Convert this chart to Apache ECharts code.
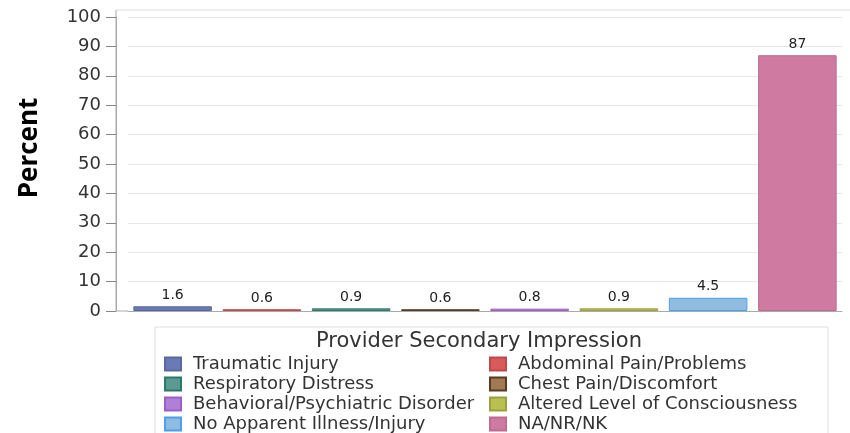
<!DOCTYPE html>
<html><head><meta charset="utf-8">
<script src="https://cdn.jsdelivr.net/npm/echarts@6/dist/echarts.min.js"></script>
<style>html,body{margin:0;padding:0;background:#fff}#c{width:850px;height:433px}</style>
</head><body><div id="c"></div>
<script>
const categories = ["Traumatic Injury","Abdominal Pain/Problems","Respiratory Distress","Chest Pain/Discomfort","Behavioral/Psychiatric Disorder","Altered Level of Consciousness","No Apparent Illness/Injury","NA/NR/NK"];
const values = [1.6, 0.6, 0.9, 0.6, 0.8, 0.9, 4.5, 87];
const labels = ["1.6","0.6","0.9","0.6","0.8","0.9","4.5","87"];
const fills = ["#6b7ab5","#d85a5a","#5a9a90","#a07a50","#b080d8","#b8c050","#90bce0","#cf7aa0"];
const borders = ["#5a68a0","#c04848","#2a7a6a","#5a3a20","#9a60c8","#9aa040","#4aa0f0","#c06a90"];
const yTicks = [0,10,20,30,40,50,60,70,80,90,100];
const legendTitle = "Provider Secondary Impression";
const yTitle = "Percent";

const FONT = '"DejaVu Sans", Verdana, sans-serif';
const series = categories.map((name, i) => ({
  name: name,
  type: 'bar',
  stack: 'all',
  barCategoryGap: '12%',
  data: categories.map((c, j) => j === i ? values[i] : '-'),
  itemStyle: {color: fills[i], borderColor: borders[i], borderWidth: 1},
  label: {show: true, position: 'top', distance: 4, formatter: () => labels[i],
          color: '#222', fontFamily: FONT, fontSize: 14},
  emphasis: {disabled: true}
}));

const legendText = {fontFamily: FONT, fontSize: 18, color: '#333', padding: [0, 0, 0, 7]};
const chart = echarts.init(document.getElementById('c'));
chart.setOption({
  animation: false,
  grid: {left: 128, right: 8, top: 17, bottom: 122, containLabel: false},
  xAxis: {type: 'category', data: categories,
    axisLine: {show: true, lineStyle: {color: '#aaa'}},
    axisTick: {show: false}, axisLabel: {show: false}},
  yAxis: {type: 'value', min: 0, max: 100, interval: 10, offset: 12,
    axisLine: {show: true, lineStyle: {color: '#aaa'}},
    axisTick: {show: true, length: 10, lineStyle: {color: '#888'}},
    axisLabel: {color: '#333', fontFamily: FONT, fontSize: 18, margin: 15,
      formatter: v => yTicks.includes(v) ? String(v) : ''},
    splitLine: {show: true, lineStyle: {color: '#e6e6e6'}}},
  legend: [
    {orient: 'vertical', left: 159, top: 350, height: 100, itemWidth: 16, itemHeight: 13, itemGap: 2, icon: 'rect',
     data: [categories[0], categories[2], categories[4], categories[6]], textStyle: legendText, selectedMode: false},
    {orient: 'vertical', left: 484, top: 350, height: 100, itemWidth: 16, itemHeight: 13, itemGap: 2, icon: 'rect',
     data: [categories[1], categories[3], categories[5], categories[7]], textStyle: legendText, selectedMode: false}
  ],
  graphic: [
    {type: 'line', shape: {x1: 116, y1: 10, x2: 850, y2: 10}, style: {stroke: '#ddd', lineWidth: 1}},
    {type: 'line', shape: {x1: 116, y1: 10, x2: 116, y2: 311}, style: {stroke: '#aaa', lineWidth: 1}},
    {type: 'line', shape: {x1: 116, y1: 311, x2: 128, y2: 311}, style: {stroke: '#aaa', lineWidth: 1}},
    {type: 'rect', shape: {x: 155, y: 327, width: 673, height: 110}, style: {fill: 'none', stroke: '#ddd', lineWidth: 1}},
    {type: 'text', x: 479, y: 342, style: {text: legendTitle, fill: '#333', font: '21px "DejaVu Sans", Verdana, sans-serif', textAlign: 'center', textVerticalAlign: 'middle'}},
    {type: 'text', x: 30, y: 148, rotation: Math.PI/2, style: {text: yTitle, fill: '#000', font: 'bold 26px "Open Sans", "Noto Sans", sans-serif', textAlign: 'center', textVerticalAlign: 'middle'}}
  ],
  series: series
});
</script></body></html>
